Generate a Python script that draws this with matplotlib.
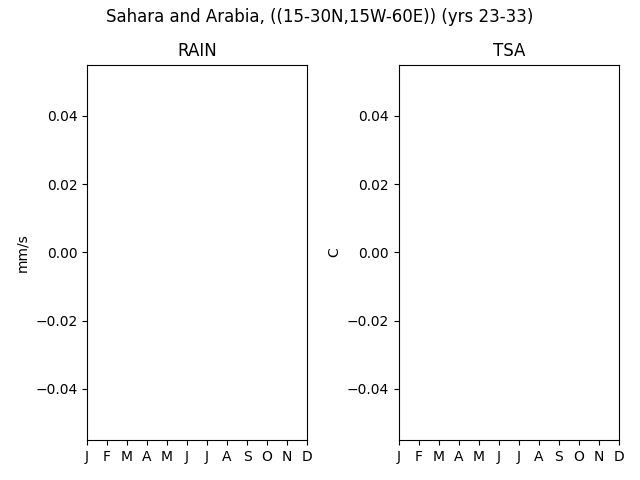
import numpy as np
import matplotlib
matplotlib.use("Agg")
import matplotlib.pyplot as plt

months = ["J", "F", "M", "A", "M", "J", "J", "A", "S", "O", "N", "D"]
# no valid data in this region / years -> nothing drawn
rain = [np.nan] * 12
tsa = [np.nan] * 12
variables = ["RAIN", "TSA"]
units = ["mm/s", "C"]

fig, axes = plt.subplots(1, 2, figsize=(6.4, 4.8), dpi=100)
for ax, name, unit, vals in zip(axes, variables, units, [rain, tsa]):
    ax.plot(range(12), vals)
    ax.set_title(name)
    ax.set_ylabel(unit)
    ax.set_xticks(range(12))
    ax.set_xticklabels(months)
    ax.set_xlim(0, 11)
    ax.set_ylim(-0.055, 0.055)

fig.suptitle("Sahara and Arabia, ((15-30N,15W-60E)) (yrs 23-33)", y=0.984)
fig.subplots_adjust(left=0.136, right=0.967, bottom=0.083, top=0.865, wspace=0.418)
fig.savefig("out.png")
